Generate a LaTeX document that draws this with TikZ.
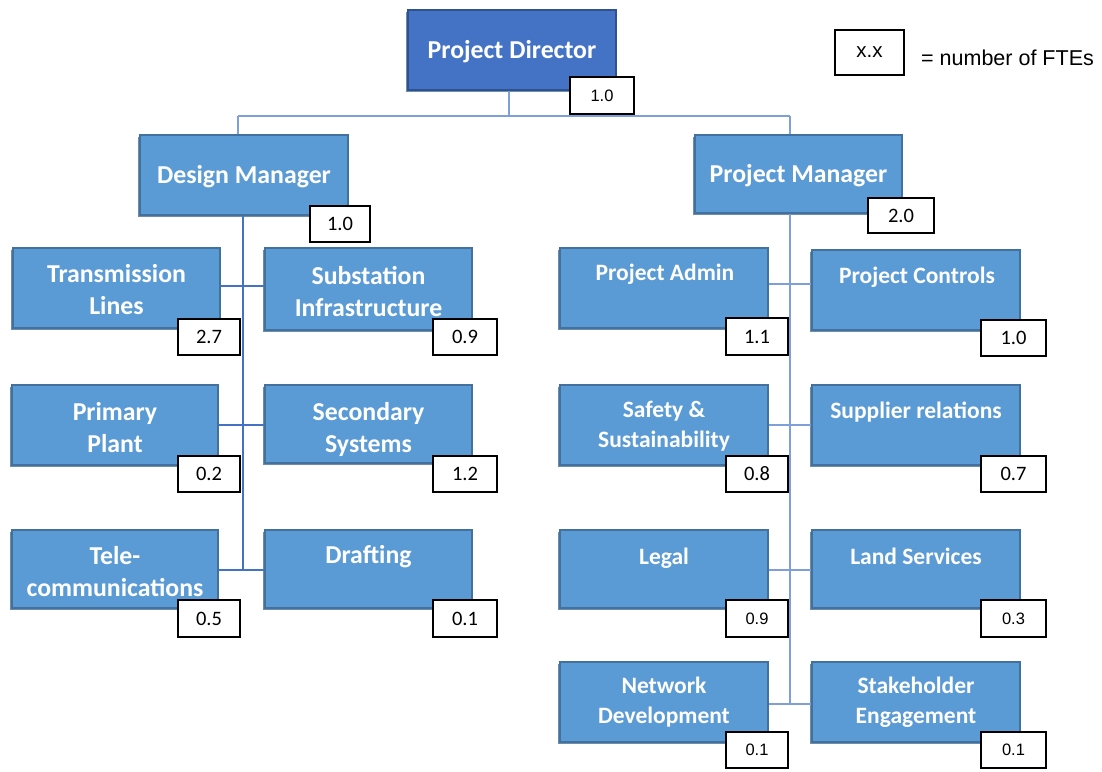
\documentclass[tikz,border=0pt]{standalone}
\usepackage{fontspec}
\setmainfont{Carlito}
\newfontfamily\arialf{Liberation Sans}
\usetikzlibrary{shadows}
\definecolor{topfill}{HTML}{4472C4}
\definecolor{topedge}{HTML}{2F528F}
\definecolor{unitfill}{HTML}{5B9BD5}
\definecolor{unitedge}{HTML}{41719C}
\definecolor{shade}{HTML}{2E5C8A}
\definecolor{linkdark}{HTML}{4472C4}
\definecolor{linklight}{HTML}{7F9FDB}
\tikzset{
  unitbox/.style={draw=unitedge, fill=unitfill, line width=1.6pt, inner sep=0pt,
    minimum width=207pt, minimum height=80pt,
    drop shadow={shadow xshift=-2pt, shadow yshift=-2pt, fill=shade, opacity=0.7}},
  headbox/.style={unitbox, draw=topedge, fill=topfill},
  lblL/.style={text=white, align=center, anchor=base, inner sep=0pt,
    font=\fontsize{25.8}{32}\selectfont\bfseries},
  lblR/.style={text=white, align=center, anchor=base, inner sep=0pt,
    font=\fontsize{23.5}{29.5}\selectfont\bfseries},
  fte/.style={draw=black, fill=white, line width=1.4pt, inner sep=0pt,
    minimum width=62pt, minimum height=36pt, font=\fontsize{20.5}{22}\selectfont},
  ftea/.style={fte, line width=1.1pt, font=\arialf\fontsize{16.5}{20}\selectfont},
  linkL/.style={draw=linkdark, line width=2pt},
  linkR/.style={draw=linklight, line width=1.3pt},
}
\begin{document}
\begin{tikzpicture}[x=1pt, y=-1pt]
\useasboundingbox (0,0) rectangle (1102,771);

% ---------- boxes ----------
\node[headbox, minimum width=208pt] (pd) at (512,50) {};
\node[unitbox, minimum width=208pt] (dm) at (244,175) {};
\node[unitbox, minimum height=78pt] (pm) at (798.5,174) {};

\node[unitbox] (tl) at (116.5,288) {};
\node[unitbox, minimum height=82pt] (si) at (368.5,289) {};
\node[unitbox, minimum width=206pt] (pp) at (115,425) {};
\node[unitbox, minimum height=78pt] (ss) at (368.5,424) {};
\node[unitbox, minimum width=206pt, minimum height=78pt] (tc) at (115,569) {};
\node[unitbox, minimum height=78pt] (dr) at (368.5,569) {};

\node[unitbox, minimum width=208pt] (pa) at (664,288) {};
\node[unitbox, minimum width=208pt] (pc) at (916,290) {};
\node[unitbox, minimum width=208pt] (sa) at (664,425) {};
\node[unitbox, minimum width=208pt] (sr) at (916,425) {};
\node[unitbox, minimum width=208pt, minimum height=78pt] (lg) at (664,569) {};
\node[unitbox, minimum width=208pt, minimum height=78pt] (ls) at (916,569) {};
\node[unitbox, minimum width=208pt] (nd) at (664,702) {};
\node[unitbox, minimum width=208pt] (se) at (916,702) {};

% ---------- connectors ----------
\coordinate (bar) at (509,116);
\coordinate (barL) at (238,116);
\coordinate (barR) at (790,116);
\coordinate (spL) at (243,0);
\coordinate (spR) at (790,0);

\draw[linkR] ([xshift=-3pt]pd.south) -- ([xshift=-3pt]pd.south |- bar);
\draw[linkR] (barL) -- (barR);
\draw[linkR] (barL) -- (barL |- dm.north);
\draw[linkR] (barR) -- (barR |- pm.north);

\draw[linkL] (spL |- dm.south) -- (spL |- tc.east);
\draw[linkL] ([yshift=2pt]tl.east) -- ([yshift=2pt]tl.east -| si.west);
\draw[linkL] (pp.east) -- (pp.east -| ss.west);
\draw[linkL] ([yshift=-1pt]tc.east) -- ([yshift=-1pt]tc.east -| dr.west);

\draw[linkR] (spR |- pm.south) -- ([yshift=-2pt]spR |- nd.east);
\draw[linkR] ([yshift=4pt]pa.east) -- ([yshift=4pt]pa.east -| pc.west);
\draw[linkR] (sa.east) -- (sa.east -| sr.west);
\draw[linkR] ([yshift=-1pt]lg.east) -- ([yshift=-1pt]lg.east -| ls.west);
\draw[linkR] ([yshift=-2pt]nd.east) -- ([yshift=-2pt]nd.east -| se.west);

% ---------- labels (anchored on the baseline of the last line) ----------
\node[lblL] (pd-t) at (512,58) {Project Director};
\node[lblL] (dm-t) at (244,183) {Design Manager};
\node[lblL] (pm-t) at (798.5,182) {Project Manager};

\node[lblL] (tl-t) at (116.5,314) {Transmission\\Lines};
\node[lblL] (si-t) at (368.5,316) {Substation\\Infrastructure};
\node[lblL] (pp-t) at (115,452) {Primary\\Plant};
\node[lblL] (ss-t) at (368.5,452) {Secondary\\Systems};
\node[lblL] (tc-t) at (115,596) {Tele-\\communications};
\node[lblL] (dr-t) at (368.5,563) {Drafting};

\node[lblR] (pa-t) at (665,280) {Project Admin};
\node[lblR] (pc-t) at (917,283) {Project Controls};
\node[lblR] (sa-t) at (664,447) {Safety \&\\Sustainability};
\node[lblR] (sr-t) at (916,418) {Supplier relations};
\node[lblR] (lg-t) at (664,564) {Legal};
\node[lblR] (ls-t) at (916,564) {Land Services};
\node[lblR] (nd-t) at (664,723) {Network\\Development};
\node[lblR] (se-t) at (916,723) {Stakeholder\\Engagement};

% ---------- FTE tags ----------
\node[ftea, minimum width=64pt, minimum height=37pt] (pd-n) at (602,95.5) {1.0};
\node[fte, minimum width=60pt] (dm-n) at (340,224) {1.0};
\node[fte, minimum width=66pt, minimum height=35pt] (pm-n) at (901,215.5) {2.0};

\node[fte] (tl-n) at (209,337) {2.7};
\node[fte, minimum width=64pt] (si-n) at (465,337) {0.9};
\node[fte] (pp-n) at (209,474) {0.2};
\node[fte, minimum width=64pt] (ss-n) at (465,474) {1.2};
\node[fte, minimum height=37pt] (tc-n) at (209,618.5) {0.5};
\node[fte, minimum width=64pt, minimum height=37pt] (dr-n) at (465,618.5) {0.1};

\node[fte, minimum height=37pt] (pa-n) at (757,336.5) {1.1};
\node[fte, minimum width=65pt] (pc-n) at (1013.5,338) {1.0};
\node[fte] (sa-n) at (757,474) {0.8};
\node[fte, minimum width=65pt] (sr-n) at (1013.5,474) {0.7};
\node[ftea, minimum height=37pt] (lg-n) at (757,618.5) {0.9};
\node[ftea, minimum width=65pt, minimum height=37pt] (ls-n) at (1013.5,618.5) {0.3};
\node[ftea] (nd-n) at (757,750) {0.1};
\node[ftea, minimum width=65pt] (se-n) at (1013.5,750) {0.1};

% ---------- legend ----------
\node[ftea, minimum width=69pt, minimum height=45pt, font=\arialf\fontsize{20.5}{24}\selectfont] (key) at (869.5,52.5) {x.x};
\node[anchor=west, inner sep=0pt, font=\arialf\fontsize{21.5}{24}\selectfont] (key-t) at (921,57.5) {= number of FTEs};
\end{tikzpicture}
\end{document}
